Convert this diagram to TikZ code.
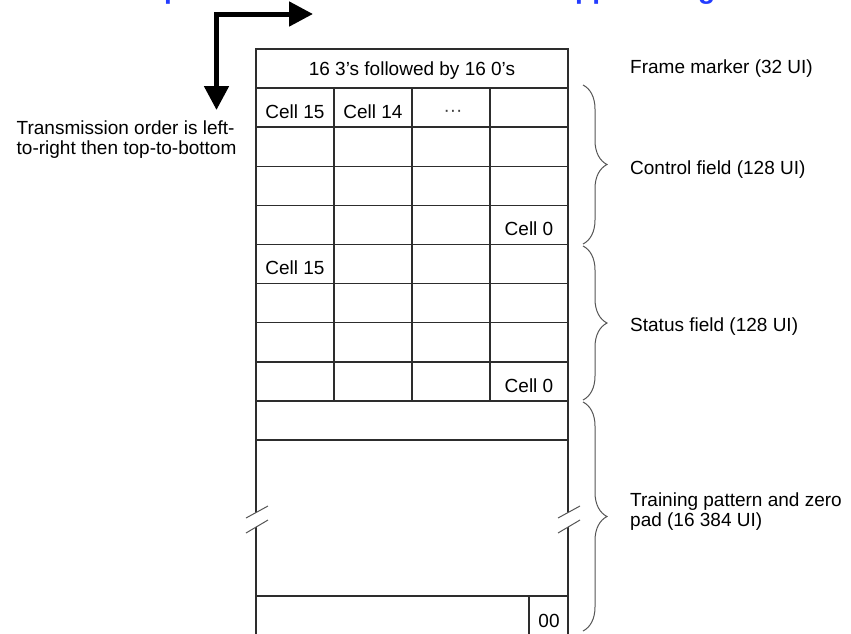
\documentclass[tikz,border=0pt]{standalone}
\usepackage{fontspec}
\setmainfont{Liberation Sans}
\usetikzlibrary{
    arrows.meta,
    positioning,
    decorations.pathreplacing
}
\definecolor{titleblue}{RGB}{35,60,255}
\definecolor{gridgray}{RGB}{45,45,45}
\definecolor{bracegray}{RGB}{85,85,85}
\tikzstyle{orderarrow} = [
    {Triangle[length=24pt,width=24pt]}-{Triangle[length=24pt,width=24pt]},
    line width=5pt,
    line join=miter
]
\tikzstyle{gridline} = [
    draw=gridgray,
    line width=1.3pt
]
\tikzstyle{fieldbrace} = [
    draw=bracegray,
    line width=1pt,
    decorate,
    decoration={brace, amplitude=24pt}
]
\tikzstyle{celltext} = [
    anchor=base,
    inner sep=0pt,
    font=\fontsize{19}{20}\selectfont
]
\tikzstyle{fieldlabel} = [
    anchor=base west,
    inner sep=0pt,
    align=left,
    font=\fontsize{19}{20}\selectfont
]
\tikzstyle{titlefrag} = [
    anchor=south west,
    inner sep=0pt,
    text=titleblue,
    font=\fontsize{28}{30}\selectfont\bfseries
]

\begin{document}
\begin{tikzpicture}[x=1pt, y=-1pt]
        \useasboundingbox (0,0) rectangle (851,633);
        \clip (0,0) rectangle (851,633);
        \fill[white] (0,0) rectangle (851,633);

        % Title, cut off by the top edge
        \node[titlefrag] (titlea) at (164,5) {p};
        \node[titlefrag] (titleb) at (575,5) {pp};
        \node[titlefrag] (titlec) at (698,5) {g};

        % Transmission order arrow
        \coordinate (orderdown) at (216.5,110);
        \coordinate (orderright) at (313,14);
        \draw[orderarrow] (orderdown) |- (orderright);
        \node[fieldlabel] (orderlbl) at (16.5,154) {Transmission order is left-\\to-right then top-to-bottom};

        % Frame outline and rows
        \draw[gridline] (256,640) -- (256,49) -- (568,49) -- (568,640);
        \foreach \k in {0,...,9} {
            \draw[gridline] (256,{88+39.125*\k}) -- (568,{88+39.125*\k});
        }
        \draw[gridline] (256,596) -- (568,596);

        % Cell columns
        \foreach \x in {334,412,490} {
            \draw[gridline] (\x,88) -- (\x,401);
        }
        \draw[gridline] (529,596) -- (529,640);

        % Break marks
        \foreach \x in {256,568} {
            \fill[white] (\x-10,518) -- (\x+12,506) -- (\x+12,520) -- (\x-10,533) -- cycle;
            \draw[bracegray, line width=1pt] (\x-10,518) -- (\x+12,506);
            \draw[bracegray, line width=1pt] (\x-10,533) -- (\x+12,520);
        }

        % Cell contents
        \node[celltext] (marker) at (412,75) {16 3’s followed by 16 0’s};
        \node[celltext] (ctlcell15) at (295,118) {Cell 15};
        \node[celltext] (ctlcell14) at (373,118) {Cell 14};
        \node[celltext, text=black!75] (ctldots) at (453,116) {···};
        \node[celltext] (ctlcell0) at (529,235.4) {Cell 0};
        \node[celltext] (stscell15) at (295,274.5) {Cell 15};
        \node[celltext] (stscell0) at (529,392) {Cell 0};
        \node[celltext] (padend) at (549,627) {00};

        % Field braces
        \coordinate (ctltop) at (583,85);
        \coordinate (ctlbot) at (583,244);
        \coordinate (ststop) at (583,246);
        \coordinate (stsbot) at (583,400);
        \coordinate (trntop) at (583,402);
        \coordinate (trnbot) at (583,631);
        \draw[fieldbrace] (ctltop) -- (ctlbot);
        \draw[fieldbrace] (ststop) -- (stsbot);
        \draw[fieldbrace] (trntop) -- (trnbot);

        % Field labels
        \node[fieldlabel] (markerlbl) at (630,73) {Frame marker (32 UI)};
        \node[fieldlabel] (ctllbl) at (630,174) {Control field (128 UI)};
        \node[fieldlabel] (stslbl) at (630,331.5) {Status field (128 UI)};
        \node[fieldlabel] (trnlbl) at (630,526) {Training pattern and zero\\pad (16 384 UI)};
    \end{tikzpicture}
\end{document}
